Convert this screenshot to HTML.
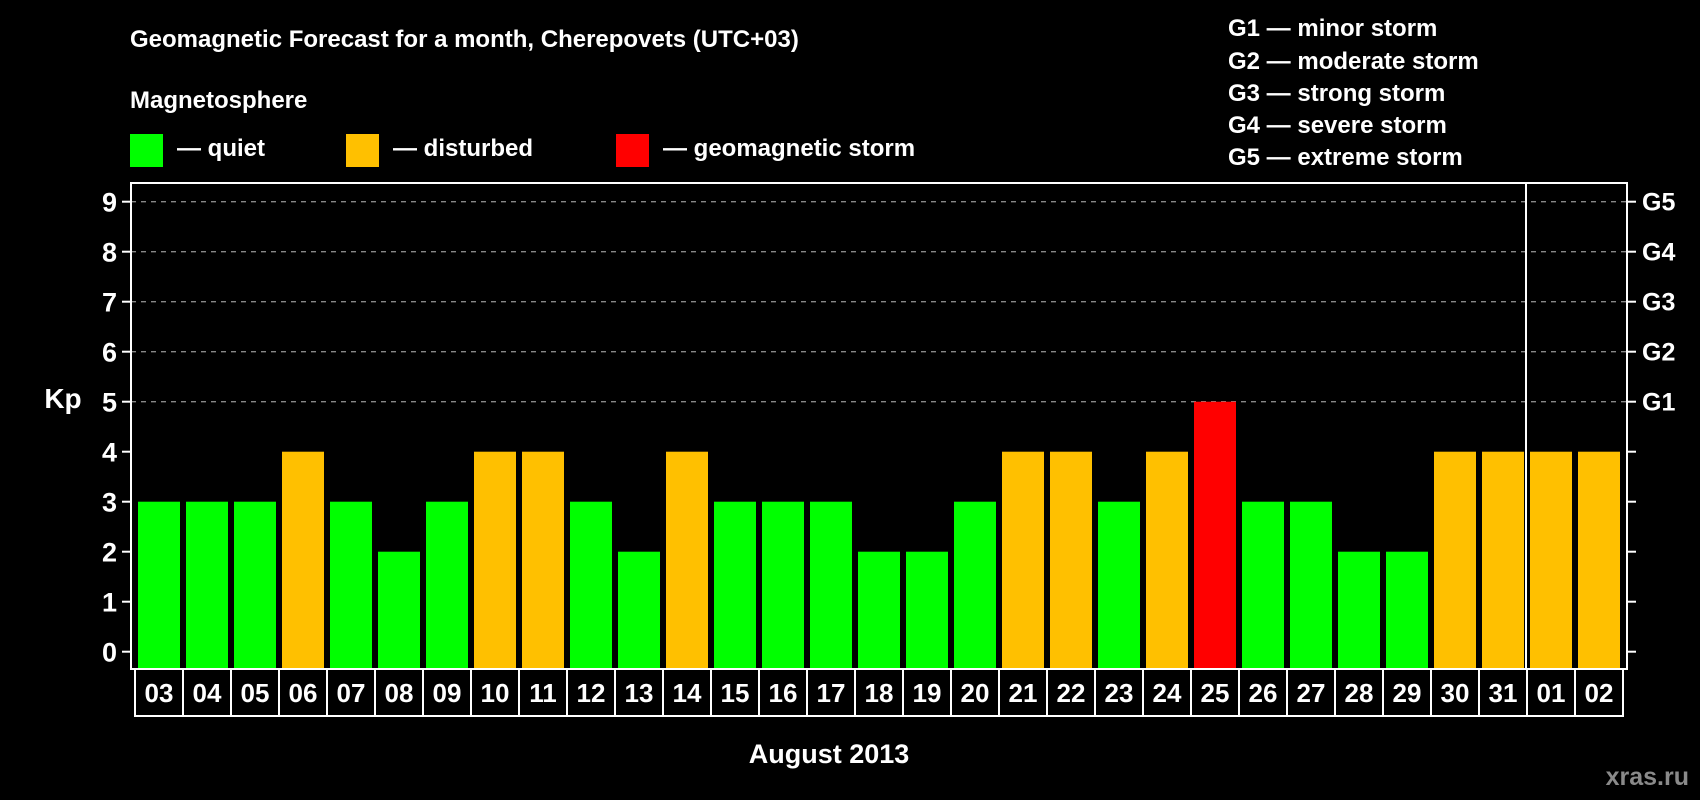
<!DOCTYPE html>
<html><head><meta charset="utf-8"><style>
html,body{margin:0;padding:0;background:#000;}
svg{display:block;font-family:"Liberation Sans",sans-serif;font-weight:bold;}
</style></head><body>
<svg id="chart" width="1700" height="800" viewBox="0 0 1700 800">
<rect width="1700" height="800" fill="#000"/>
<text x="130" y="47" fill="#fff" font-size="24">Geomagnetic Forecast for a month, Cherepovets (UTC+03)</text>
<text x="130" y="108" fill="#fff" font-size="24">Magnetosphere</text>
<g><rect x="130" y="134" width="33" height="33" fill="#00ff00"/><text x="177" y="156" fill="#fff" font-size="24">— quiet</text></g>
<g><rect x="346" y="134" width="33" height="33" fill="#ffc000"/><text x="393" y="156" fill="#fff" font-size="24">— disturbed</text></g>
<g><rect x="616" y="134" width="33" height="33" fill="#ff0000"/><text x="663" y="156" fill="#fff" font-size="24">— geomagnetic storm</text></g>
<g fill="#fff" font-size="24">
<text x="1228" y="36">G1 — minor storm</text>
<text x="1228" y="69">G2 — moderate storm</text>
<text x="1228" y="101">G3 — strong storm</text>
<text x="1228" y="133">G4 — severe storm</text>
<text x="1228" y="165">G5 — extreme storm</text>
</g>
<text x="63" y="408" fill="#fff" font-size="28" text-anchor="middle">Kp</text>
<text x="829" y="763" fill="#fff" font-size="27" text-anchor="middle">August 2013</text>
<text x="1689" y="785" fill="#8a8a8a" font-size="25" text-anchor="end">xras.ru</text>
<g id="grid"></g><g id="bars"></g><g id="axes"></g>
</svg>
<script>
const days=["03","04","05","06","07","08","09","10","11","12","13","14","15","16","17","18","19","20","21","22","23","24","25","26","27","28","29","30","31","01","02"];
const kp=[3,3,3,4,3,2,3,4,4,3,2,4,3,3,3,2,2,3,4,4,3,4,5,3,3,2,2,4,4,4,4];
const yTicks=[0,1,2,3,4,5,6,7,8,9];
const gLabels=["G1","G2","G3","G4","G5"];
const gLevels=[5,6,7,8,9];
const monthBreak=29;
const NS="http://www.w3.org/2000/svg";
const L=131,R=1627,T=183,B=669,pitch=48,x0=135;
const y=v=>651.7-50*v;
const x=i=>x0+pitch*i;
function mk(tag,at,parent){const e=document.createElementNS(NS,tag);for(const k in at)e.setAttribute(k,at[k]);document.getElementById(parent).appendChild(e);return e;}
gLevels.forEach(v=>{const l=mk('line',{x1:L,x2:R,y1:y(v),y2:y(v),stroke:'#888','stroke-dasharray':'5,5','stroke-width':1.3},'grid');

});
kp.forEach((v,i)=>{const c=v>=5?'#ff0000':(v>=4?'#ffc000':'#00ff00');
const r=mk('rect',{x:x(i)+3,y:y(v),width:42,height:B-1-y(v),fill:c},'bars');

});
const box=mk('rect',{x:L,y:T,width:R-L,height:B-T,fill:'none',stroke:'#fff','stroke-width':2},'axes');


const sep=mk('line',{x1:x(monthBreak)-1,x2:x(monthBreak)-1,y1:T,y2:B,stroke:'#fff','stroke-width':2},'axes');


yTicks.forEach(v=>{
const t1=mk('line',{x1:L-9,x2:L,y1:y(v),y2:y(v),stroke:'#fff','stroke-width':2},'axes');


const t2=mk('line',{x1:R,x2:R+9,y1:y(v),y2:y(v),stroke:'#fff','stroke-width':2},'axes');


const tx=mk('text',{x:117,y:y(v)+10,fill:'#fff','font-size':27,'text-anchor':'end'},'axes');tx.textContent=v;

});
gLevels.forEach((v,i)=>{const tx=mk('text',{x:1642,y:y(v)+9,fill:'#fff','font-size':25},'axes');tx.textContent=gLabels[i];

});
days.forEach((d,i)=>{
const c=mk('rect',{x:x(i),y:669,width:pitch,height:47,fill:'none',stroke:'#fff','stroke-width':2},'axes');


const tx=mk('text',{x:x(i)+pitch/2,y:702,fill:'#fff','font-size':26,'text-anchor':'middle'},'axes');tx.textContent=d;

});
</script>
</body></html>
